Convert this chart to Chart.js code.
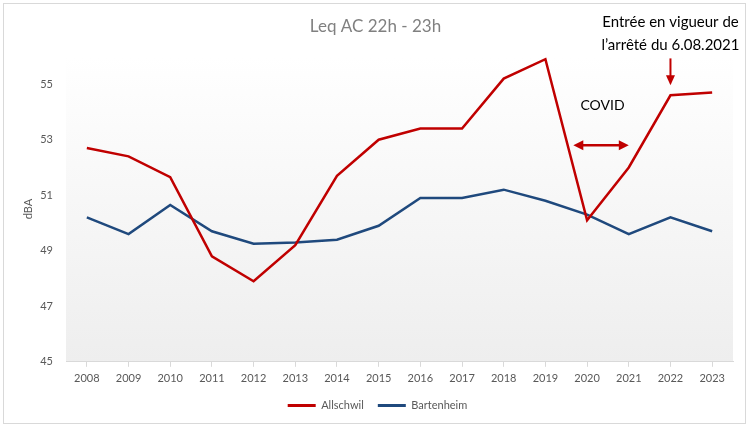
<!DOCTYPE html>
<html lang="fr">
<head>
<meta charset="UTF-8">
<title>Leq AC 22h - 23h</title>
<script src="https://cdn.jsdelivr.net/npm/chart.js"></script>
<style>
  body { margin: 0; background: #fff; }
  #wrap { width: 752px; height: 431px; }
</style>
</head>
<body>
<div id="wrap"><canvas id="leqChart" width="752" height="431"></canvas></div>
<script>
    // data
    const years = ['2008', '2009', '2010', '2011', '2012', '2013', '2014', '2015',
                   '2016', '2017', '2018', '2019', '2020', '2021', '2022', '2023'];
    const allschwil = [52.7, 52.4, 51.65, 48.8, 47.9, 49.2, 51.7, 53.0,
                       53.4, 53.4, 55.2, 55.9, 50.1, 52.0, 54.6, 54.7];
    const bartenheim = [50.2, 49.6, 50.65, 49.7, 49.25, 49.3, 49.4, 49.9,
                        50.9, 50.9, 51.2, 50.8, 50.3, 49.6, 50.2, 49.7];
    const yTicks = [45, 47, 49, 51, 53, 55];

    const RED = '#c00000';
    const BLUE = '#1f497d';
    const FONT = 'Lato, "Open Sans", sans-serif';

    function drawArrowHead(ctx, x, y, dx, dy, len, half) {
        // tip at (x,y), pointing in direction (dx,dy)
        ctx.beginPath();
        ctx.moveTo(x, y);
        ctx.lineTo(x - dx * len - dy * half, y - dy * len + dx * half);
        ctx.lineTo(x - dx * len + dy * half, y - dy * len - dx * half);
        ctx.closePath();
        ctx.fill();
    }

    const frame = {
        id: 'frame',
        afterLayout(chart) {
            // title and legend are centred on the whole frame, not the plot box
            chart.titleBlock.left += 9;
            chart.titleBlock.right += 9;
            chart.legend.left += 11;
            chart.legend.right += 11;
            chart.legend.top -= 4;
        },
        beforeDraw(chart) {
            const ctx = chart.ctx;
            const a = chart.chartArea;
            ctx.save();
            const g = ctx.createLinearGradient(0, a.top, 0, a.bottom);
            g.addColorStop(0, '#ffffff');
            g.addColorStop(1, '#eeeeee');
            ctx.fillStyle = g;
            ctx.fillRect(a.left, a.top, a.right - a.left, a.bottom - a.top);
            ctx.strokeStyle = '#d9d9d9';
            ctx.lineWidth = 1;
            ctx.strokeRect(3.5, 3.5, 742, 420);
            ctx.restore();
        }
    };

    const notes = {
        id: 'notes',
        afterDatasetsDraw(chart) {
            const ctx = chart.ctx;
            const xs = chart.scales.x;
            const ys = chart.scales.y;
            const top = chart.chartArea.top;
            const step = xs.getPixelForValue(1) - xs.getPixelForValue(0);
            ctx.save();

            // decree text + arrow down to 2022
            const x22 = xs.getPixelForValue(14);
            ctx.fillStyle = '#000';
            ctx.font = '15px ' + FONT;
            ctx.textAlign = 'center';
            ctx.textBaseline = 'middle';
            ctx.fillText('Entrée en vigueur de', x22, top - 34);
            ctx.fillText('l\u2019arrêté du 6.08.2021', x22, top - 11);

            ctx.strokeStyle = RED;
            ctx.fillStyle = RED;
            ctx.lineWidth = 2;
            const tipY = ys.getPixelForValue(allschwil[14]) - 10;
            ctx.beginPath();
            ctx.moveTo(x22, top + 2);
            ctx.lineTo(x22, tipY - 6);
            ctx.stroke();
            drawArrowHead(ctx, x22, tipY, 0, 1, 10, 4.5);

            // COVID label + double arrow 2020-2021
            const x20 = xs.getPixelForValue(12);
            const x21 = xs.getPixelForValue(13);
            ctx.fillStyle = '#000';
            ctx.font = '14px ' + FONT;
            ctx.fillText('COVID', x20 + 0.37 * step, ys.getPixelForValue(54.25));

            const ay = ys.getPixelForValue(52.8);
            const ax0 = x20 - 0.33 * step;
            ctx.fillStyle = RED;
            ctx.lineWidth = 2.5;
            ctx.beginPath();
            ctx.moveTo(ax0 + 6, ay);
            ctx.lineTo(x21 - 6, ay);
            ctx.stroke();
            drawArrowHead(ctx, ax0, ay, -1, 0, 10, 5);
            drawArrowHead(ctx, x21, ay, 1, 0, 10, 5);
            ctx.restore();
        }
    };

    new Chart(document.getElementById('leqChart'), {
        type: 'line',
        data: {
            labels: years,
            datasets: [{
                label: 'Allschwil',
                data: allschwil,
                borderColor: RED,
                backgroundColor: RED,
                borderWidth: 2.5,
                pointRadius: 0,
                tension: 0
            }, {
                label: 'Bartenheim',
                data: bartenheim,
                borderColor: BLUE,
                backgroundColor: BLUE,
                borderWidth: 2.5,
                pointRadius: 0,
                tension: 0
            }]
        },
        options: {
            responsive: false,
            animation: false,
            layout: { padding: { top: 4, left: 0, right: 19, bottom: 6 } },
            plugins: {
                title: {
                    display: true,
                    text: 'Leq AC 22h - 23h',
                    color: '#808080',
                    font: { family: FONT, size: 17, weight: 'normal' },
                    padding: { top: 12, bottom: 20 }
                },
                legend: {
                    position: 'bottom',
                    labels: {
                        boxWidth: 28,
                        boxHeight: 3,
                        padding: 14,
                        color: '#595959',
                        font: { family: FONT, size: 11 },
                        generateLabels: chart => Chart.defaults.plugins.legend.labels.generateLabels(chart)
                            .map(item => Object.assign(item, { lineWidth: 0 }))
                    }
                },
                tooltip: { enabled: false }
            },
            scales: {
                x: {
                    offset: true,
                    grid: {
                        offset: false,
                        drawOnChartArea: false,
                        tickLength: 5,
                        color: '#d9d9d9'
                    },
                    border: { color: '#d9d9d9' },
                    ticks: {
                        color: '#595959',
                        padding: 5,
                        maxRotation: 0,
                        font: { family: FONT, size: 11 }
                    }
                },
                y: {
                    min: 45,
                    max: 56,
                    afterBuildTicks: scale => { scale.ticks = yTicks.map(v => ({ value: v })); },
                    afterFit: scale => { scale.width = 66; },
                    grid: { display: false, drawTicks: false },
                    border: { display: false },
                    ticks: {
                        color: '#595959',
                        padding: 13,
                        font: { family: FONT, size: 11 }
                    },
                    title: {
                        display: true,
                        text: 'dBA',
                        color: '#595959',
                        font: { family: FONT, size: 11 },
                        padding: { top: 22, bottom: 0 }
                    }
                }
            }
        },
        plugins: [frame, notes]
    });
</script>
</body>
</html>
